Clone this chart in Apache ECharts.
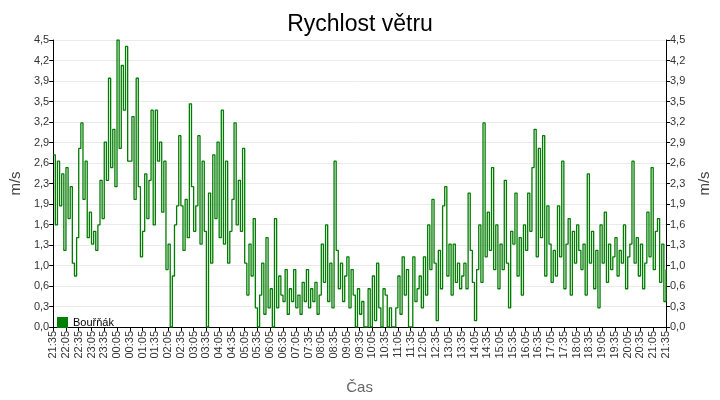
<!DOCTYPE html>
<html>
<head>
<meta charset="utf-8">
<script src="https://cdn.jsdelivr.net/npm/echarts@6/dist/echarts.min.js"></script>
<style>html,body{margin:0;padding:0;background:#fff}#chart{width:720px;height:400px}</style>
</head>
<body>
<div id="chart"></div>
<script>
// wind speed every 5 minutes, 21:35 -> 21:35 next day (one row per hour)
var windSpeed = [
    2.7,1.6,2.6,1.9,2.4,1.2,2.5,1.7,2.2,1.0,0.8,1.4,
    2.8,3.2,2.0,2.6,1.4,1.8,1.3,1.5,1.2,1.6,2.3,1.7,
    2.9,2.3,3.9,2.5,3.1,2.2,4.5,2.8,4.1,3.4,4.4,2.6,
    2.6,3.3,2.0,3.9,2.2,1.1,1.5,2.4,1.7,2.3,3.4,1.6,
    3.4,2.6,2.9,1.8,2.6,0.9,1.3,0.0,0.8,1.6,1.9,3.0,
    1.9,1.2,2.0,1.4,3.5,2.2,1.5,1.9,3.0,1.3,2.6,1.5,
    0.0,2.1,1.0,2.7,1.7,2.9,1.4,3.4,1.3,2.6,1.0,1.5,
    2.0,3.2,1.6,2.3,1.5,2.8,1.0,0.5,1.3,0.8,1.7,0.3,
    0.0,0.5,1.0,0.2,1.4,0.3,0.6,0.0,1.7,0.3,0.8,0.5,
    0.4,0.9,0.2,0.6,0.4,0.9,0.3,0.5,0.2,0.7,0.4,0.9,
    0.3,0.6,0.4,0.7,0.2,0.5,1.3,0.7,1.6,0.4,1.0,0.3,
    2.6,1.2,0.6,1.0,0.4,0.8,1.1,0.3,0.9,0.5,0.0,0.6,
    0.2,0.4,0.0,0.0,0.6,0.0,0.8,0.1,1.0,0.3,0.0,0.6,
    0.5,0.0,0.3,0.0,0.0,0.3,0.8,0.2,1.1,0.5,0.9,0.0,
    0.0,1.1,0.4,0.6,0.8,0.3,1.1,0.5,1.6,0.9,2.0,1.0,
    0.1,1.2,0.6,1.9,2.2,0.8,1.3,0.5,1.3,0.7,1.0,0.6,
    0.8,1.0,0.6,2.1,1.2,0.7,0.1,0.9,1.6,0.7,3.2,1.1,
    1.8,1.2,2.5,0.9,1.6,0.6,1.3,0.9,2.3,1.0,0.3,1.5,
    1.3,2.1,0.8,1.4,0.5,1.6,1.2,2.1,1.5,2.5,3.1,1.1,
    2.8,1.4,3.0,0.8,1.9,1.3,0.7,1.2,0.8,1.9,1.1,2.6,
    0.6,1.3,1.7,0.5,1.5,1.0,1.6,1.2,0.9,1.3,0.5,2.4,
    1.0,1.5,0.6,1.2,0.3,1.6,1.0,1.8,0.7,1.3,0.9,1.1,
    1.4,0.8,1.2,1.0,1.6,0.6,1.1,1.3,2.6,1.0,1.4,0.8,
    1.3,0.6,1.0,1.8,1.1,2.5,0.9,1.5,1.7,0.7,1.3,0.4,
    0.9
];
var startMinutes = 21 * 60 + 35;
var stepMinutes = 5;

var times = [];
for (var i = 0; i < windSpeed.length; i++) {
    var m = (startMinutes + i * stepMinutes) % 1440;
    var h = Math.floor(m / 60), mm = m % 60;
    times.push((h < 10 ? '0' : '') + h + ':' + (mm < 10 ? '0' : '') + mm);
}

var yMax = 4.5, yStep = 4.5 / 14;
var fmt = function (v) { return v.toFixed(1).replace('.', ','); };

var yAxisBase = function (pos) {
    return {
        type: 'value', position: pos, min: 0, max: yMax, interval: yStep,
        name: 'm/s', nameLocation: 'middle', nameGap: pos === 'left' ? 29 : 31,
        nameTextStyle: { fontSize: 15, color: '#444', fontFamily: 'Liberation Sans' },
        axisLine: { show: true, lineStyle: { color: '#000' } },
        axisTick: { show: true, length: 4, lineStyle: { color: '#000' } },
        axisLabel: { formatter: fmt, fontSize: 11, color: '#333', fontFamily: 'Liberation Sans', margin: 4 },
        splitLine: { show: pos === 'left', lineStyle: { color: '#ebebeb' } }
    };
};

var chart = echarts.init(document.getElementById('chart'));
chart.setOption({
    animation: false,
    title: { text: 'Rychlost větru', left: 'center', top: 8,
        textStyle: { fontSize: 23, fontWeight: 'normal', color: '#000', fontFamily: 'Liberation Sans' } },
    legend: { left: 52, top: 312, itemWidth: 11, itemHeight: 11, icon: 'rect',
        textStyle: { fontSize: 11, color: '#000', fontFamily: 'Liberation Sans' },
        data: ['Bouřňák'] },
    grid: { left: 48, right: 49, top: 40, bottom: 69 },
    xAxis: {
        type: 'category', data: times, boundaryGap: false,
        name: 'Čas', nameLocation: 'middle', nameGap: 53,
        nameTextStyle: { fontSize: 15, color: '#666', fontFamily: 'Liberation Sans' },
        axisLine: { lineStyle: { color: '#000' } },
        axisTick: { interval: 5, length: 4, lineStyle: { color: '#000' } },
        axisLabel: { interval: 5, rotate: 90, fontSize: 11, color: '#333', fontFamily: 'Liberation Sans', margin: 4 }
    },
    yAxis: [yAxisBase('left'), yAxisBase('right')],
    series: [{
        name: 'Bouřňák', type: 'line', step: 'end', data: windSpeed,
        showSymbol: false, color: '#008000', lineStyle: { width: 1.3, color: '#007c00' }
    }]
});
</script>
</body>
</html>
